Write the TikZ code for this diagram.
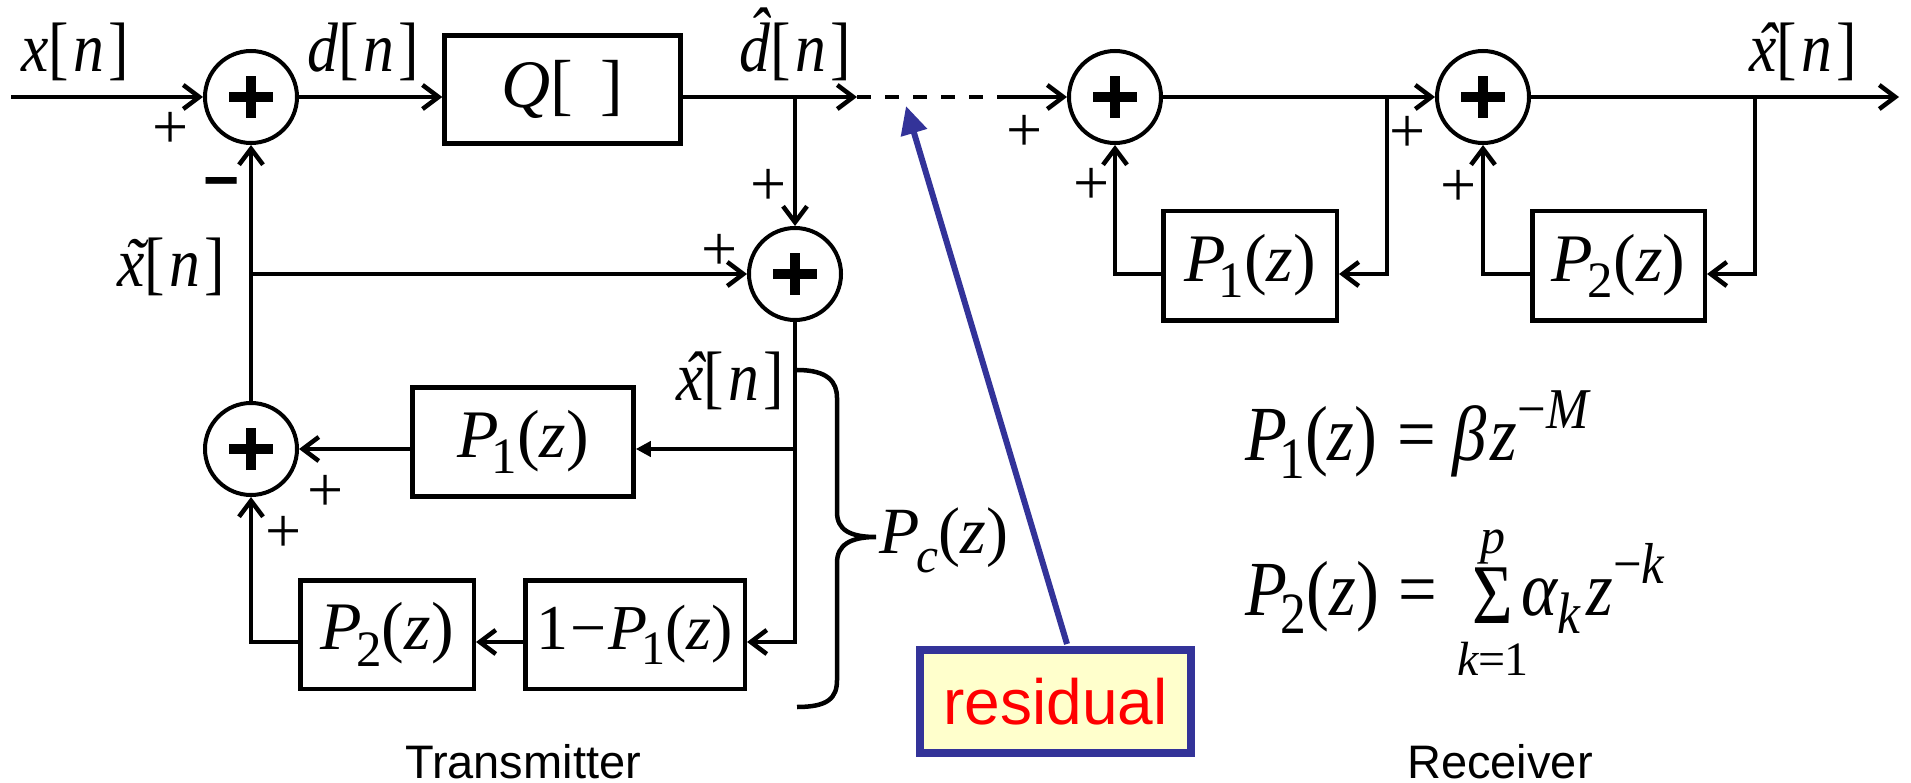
\documentclass[tikz,border=0pt]{standalone}
\usepackage{fontspec}
\usepackage{graphicx}
\setmainfont{Liberation Serif}
\newfontfamily\sansf{Liberation Sans}
\newfontfamily\condf[FakeStretch=0.88]{Liberation Serif}
\usetikzlibrary{arrows.meta}
\newcommand{\fs}[1]{\fontsize{#1}{#1}\selectfont}
\newcommand{\ti}[1]{{\itshape #1}}
\newcommand{\sbs}[1]{\raisebox{-0.24em}{\scalebox{0.75}{#1}}}
\newcommand{\sps}[1]{\raisebox{0.4em}{\scalebox{0.74}{#1}}}
\newcommand{\hatx}{\ooalign{\ti{x}\cr\hidewidth\kern0.1em\ti{\char"02C6}\hidewidth\cr}}
\newcommand{\tildx}{\ooalign{\ti{x}\cr\hidewidth\kern0.1em\ti{\char"02DC}\hidewidth\cr}}
\newcommand{\hatd}{\ooalign{\ti{d}\cr\hidewidth\kern0.12em\raisebox{0.22em}{\ti{\char"02C6}}\hidewidth\cr}}
\newcommand{\lbr}{[\kern0.06em}
\newcommand{\rbr}{\kern0.06em]}
\begin{document}
\begin{tikzpicture}[x=1pt,y=-1pt,line width=4.5pt,
  >={Straight Barb[length=16pt,width=24pt]},
  sumn/.style={circle,draw,line width=4pt,minimum size=92pt,inner sep=0pt,
    path picture={
      \draw[line width=10pt] ([xshift=-22pt]path picture bounding box.center) -- ([xshift=22pt]path picture bounding box.center);
      \draw[line width=10pt] ([yshift=-21pt]path picture bounding box.center) -- ([yshift=21pt]path picture bounding box.center);}},
  blk/.style={draw,line width=4.5pt,inner sep=0pt,font=\fs{68}},
  lab/.style={font=\condf\fs{70},inner sep=0pt,anchor=base},
  pl/.style={font=\fs{64},inner sep=0pt},
  eqn/.style={font=\condf\fs{78},inner sep=0pt,anchor=base west},
  captxt/.style={font=\sansf\fs{47},inner sep=0pt,anchor=base},
  resbox/.style={draw=resblue,line width=7.5pt,fill=resfill,inner sep=0pt,
    minimum width=271pt,minimum height=103pt,font=\sansf\fs{64},text=red}]
\definecolor{resblue}{HTML}{333399}
\definecolor{resfill}{HTML}{FFFFCC}
\useasboundingbox (0,0) rectangle (1911,783);

% summing junctions
\node[sumn] (S1) at (251,97) {};
\node[sumn] (S2) at (795,274) {};
\node[sumn] (S3) at (251,449) {};
\node[sumn] (S4) at (1115,97) {};
\node[sumn] (S5) at (1483,97) {};

% blocks
\node[blk,minimum width=236pt,minimum height=108pt] (Q) at (562.5,89.5) {\ti{Q}[\hspace{0.4em}]};
\node[blk,minimum width=221pt,minimum height=109pt] (TP1) at (523,442) {\ti{P}\kern-0.1em\sbs{1}(\ti{z})};
\node[blk,minimum width=173.5pt,minimum height=108.5pt] (TP2) at (387,634.5) {\ti{P}\kern-0.08em\sbs{2}(\ti{z})};
\node[blk,minimum width=219.5pt,minimum height=108.5pt,font=\fs{64}] (TQ) at (635,634.5) {1\kern0.03em−\kern0.03em\ti{P}\kern-0.1em\sbs{1}(\ti{z})};
\node[blk,minimum width=173.5pt,minimum height=109.5pt] (RP1) at (1250,266) {\ti{P}\kern-0.1em\sbs{1}(\ti{z})};
\node[blk,minimum width=172.5pt,minimum height=109.5pt] (RP2) at (1618.5,266) {\ti{P}\kern-0.08em\sbs{2}(\ti{z})};

% residual note
\node[resbox] (res) at (1055.5,701.5) {residual};

% coordinates
\coordinate (xin) at (11,97);
\coordinate (dtip) at (857,97);
\coordinate (dend) at (1000,97);
\coordinate (B1) at (795,97);
\coordinate (J1) at (251,274);
\coordinate (J2) at (795,449);
\coordinate (J3) at (795,642);
\coordinate (J4) at (251,642);
\coordinate (R1) at (1387,97);
\coordinate (R1b) at (1387,274);
\coordinate (R2) at (1115,274);
\coordinate (R3) at (1755,97);
\coordinate (R3b) at (1755,274);
\coordinate (R4) at (1483,274);
\coordinate (xout) at (1899,97);
\coordinate (rs) at (1067,644);
\coordinate (rt) at (906,106);

% transmitter connections
\draw[->] (xin) -- (S1);
\draw[->] (S1) -- (Q.west |- S1);
\draw[->] (Q.east |- S1) -- (dtip);
\draw[dash pattern=on 14pt off 14pt] (dtip) -- (dend);
\draw[->] (B1) -- (S2);
\draw[->] (J1) -- (S2);
\draw[->] (S3) -- (S1);
\draw[->] (S2) -- (J3) -- (TQ.east |- J3);
\draw[-{Triangle[length=15pt,width=15pt]}] (J2) -- (TP1.east |- J2);
\draw[->] (TP1.west |- J2) -- (S3);
\draw[->] (TQ.west |- J3) -- (TP2.east |- J3);
\draw[->] (TP2.west |- J3) -- (J4) -- (S3);

% receiver connections
\draw[->] (dend) -- (S4);
\draw[->] (S4) -- (S5);
\draw[->] (R1) -- (R1b) -- (RP1.east |- R1b);
\draw[->] (RP1.west |- R1b) -- (R2) -- (S4);
\draw[->] (S5) -- (xout);
\draw[->] (R3) -- (R3b) -- (RP2.east |- R3b);
\draw[->] (RP2.west |- R3b) -- (R4) -- (S5);

% residual pointer
\draw[resblue,line width=6pt,-{Triangle[length=28pt,width=26pt]}] (rs) -- (rt);

% brace
\draw[line width=4.5pt] (797,370) .. controls (828,370) and (837,382) .. (837,398)
  -- (837,512) .. controls (837,530) and (850,537) .. (876,537)
  .. controls (850,537) and (837,545) .. (837,563)
  -- (837,680) .. controls (837,698) and (828,707) .. (797,707);

% signal labels
\node[lab] (lx) at (75,72) {\ti{x}\lbr\ti{n}\rbr};
\node[lab] (ld) at (363,72) {\ti{d}\lbr\ti{n}\rbr};
\node[lab] (ldh) at (795,72) {\hatd\lbr\ti{n}\rbr};
\node[lab] (lxt) at (171,287) {\tildx\lbr\ti{n}\rbr};
\node[lab] (lxh) at (730,400) {\hatx\lbr\ti{n}\rbr};
\node[lab] (lxo) at (1803,72) {\hatx\lbr\ti{n}\rbr};
\node[lab,font=\fs{66}] (lpc) at (944,553) {\ti{P}\kern-0.05em\raisebox{-0.3em}{\scalebox{0.75}{\ti{c}}}(\ti{z})};

% signs
\node[pl] (p1) at (171,130) {+};
\node[font=\sansf\bfseries\fs{62},inner sep=0pt,anchor=base] (m1) at (222,202) {−};
\node[pl] (p2) at (769,187) {+};
\node[pl] (p3) at (720,252) {+};
\node[pl] (p4) at (326,493) {+};
\node[pl] (p5) at (284,534) {+};
\node[pl] (p6) at (1025,133) {+};
\node[pl] (p7) at (1092,186) {+};
\node[pl] (p8) at (1408,134) {+};
\node[pl] (p9) at (1459,188) {+};

% equations
\node[eqn] (e1) at (1243,460) {\ti{P}\kern-0.1em\sbs{1}(\ti{z})\hspace{0.25em}=\hspace{0.22em}\ti{β}\kern0.05em\ti{z}\sps{−\ti{M}}};
\node[eqn] (e2a) at (1243,615) {\ti{P}\kern-0.08em\sbs{2}(\ti{z})\hspace{0.25em}=};
\node[font=\fs{85},inner sep=0pt,anchor=base] (sig) at (1493,623) {\scalebox{0.82}[1]{Σ}};
\node[font=\fs{50},inner sep=0pt,anchor=base] (sigp) at (1493,553) {\ti{p}};
\node[font=\fs{48},inner sep=0pt,anchor=base] (sigk) at (1493,675) {\ti{k}\kern-0.02em=\kern-0.02em1};
\node[eqn] (e2b) at (1519,615) {\ti{α}\sbs{\ti{k}}\kern0.08em\ti{z}\sps{−\ti{k}}};

% captions
\node[captxt] (tx) at (523,778) {Transmitter};
\node[captxt] (rx) at (1500,778) {Receiver};
\end{tikzpicture}
\end{document}
